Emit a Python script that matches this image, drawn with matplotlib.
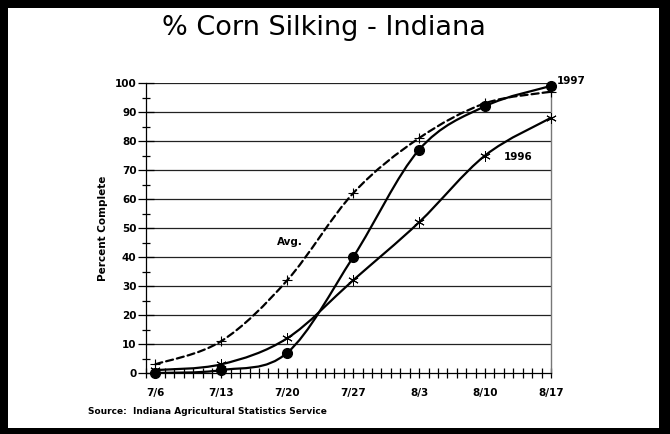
import numpy as np
import matplotlib
matplotlib.use("Agg")
import matplotlib.pyplot as plt
from matplotlib.path import Path
from matplotlib.patches import PathPatch, Rectangle
from matplotlib.ticker import MultipleLocator

plt.rcParams["font.family"] = ["DejaVu Sans"]

# days after 7/6 for each weekly report
DAYS = [0, 7, 14, 21, 28, 35, 42]
DATE_LABELS = ["7/6", "7/13", "7/20", "7/27", "8/3", "8/10", "8/17"]
PCT_1997 = [0, 1, 7, 40, 77, 92, 99]
PCT_1996 = [1, 3, 12, 32, 52, 75, 88]
PCT_AVG = [3, 11, 32, 62, 81, 93, 97]


def smooth_path(xs, ys):
    """Catmull-Rom curve through the points, as cubic Bezier segments."""
    pts = np.column_stack([xs, ys]).astype(float)
    verts = [pts[0]]
    codes = [Path.MOVETO]
    n = len(pts)
    for i in range(n - 1):
        p0 = pts[i - 1] if i > 0 else pts[i]
        p1, p2 = pts[i], pts[i + 1]
        p3 = pts[i + 2] if i + 2 < n else pts[i + 1]
        c1 = p1 + (p2 - p0) / 6.0
        c2 = p2 - (p3 - p1) / 6.0
        verts += [c1, c2, p2]
        codes += [Path.CURVE4] * 3
    return Path(verts, codes)


fig = plt.figure(figsize=(6.7, 4.34), dpi=100)
ax = fig.add_axes([146 / 670, 1 - 373 / 434, 405 / 670, 290 / 434])

for y in range(10, 101, 10):
    ax.axhline(y, color="#222222", lw=0.9, zorder=1)

line_kw = dict(fill=False, lw=1.6, edgecolor="black", zorder=3, capstyle="round")
ax.add_patch(PathPatch(smooth_path(DAYS, PCT_AVG), ls=(0, (3.2, 1.8)), **line_kw))
ax.add_patch(PathPatch(smooth_path(DAYS, PCT_1996), **line_kw))
ax.add_patch(PathPatch(smooth_path(DAYS, PCT_1997), **line_kw))

ax.plot(DAYS, PCT_AVG, ls="none", marker="+", ms=7.5, mew=0.8, color="black",
        zorder=4, clip_on=False)
ax.plot(DAYS, PCT_1996, ls="none", marker=(6, 2, 0), ms=7.5, mew=0.7, color="black",
        zorder=4, clip_on=False)
ax.plot(DAYS, PCT_1997, ls="none", marker="o", ms=7, color="black",
        zorder=5, clip_on=False)

ax.set_xlim(-1, 42)
ax.set_ylim(0, 100)

ax.set_xticks(DAYS)
ax.set_xticklabels(DATE_LABELS)
ax.xaxis.set_minor_locator(MultipleLocator(1))
ax.yaxis.set_major_locator(MultipleLocator(10))
ax.yaxis.set_minor_locator(MultipleLocator(5))

ax.tick_params(axis="y", which="major", direction="inout", length=11.5, width=0.9,
               labelsize=7.5, pad=1)
ax.tick_params(axis="y", which="minor", direction="inout", length=5.8, width=0.9)
ax.tick_params(axis="x", which="both", direction="inout", length=7, width=0.9,
               labelsize=7.5, pad=7)
for lab in ax.get_xticklabels() + ax.get_yticklabels():
    lab.set_fontweight("bold")

ax.spines["top"].set_visible(False)
ax.spines["left"].set_linewidth(0.9)
ax.spines["bottom"].set_linewidth(0.9)
ax.spines["right"].set_color("#777777")
ax.spines["right"].set_linewidth(1.0)

ax.set_ylabel("Percent Complete", fontsize=7.5, fontweight="bold", labelpad=5)

ax.text(42.6, 100.7, "1997", fontsize=7.5, fontweight="bold", va="center", ha="left")
ax.text(37.0, 74.5, "1996", fontsize=7.5, fontweight="bold", va="center", ha="left")
ax.text(12.9, 45.2, "Avg.", fontsize=7.5, fontweight="bold", va="center", ha="left")

fig.text(324 / 670, 1 - 28 / 434, "% Corn Silking - Indiana", fontsize=19.5,
         ha="center", va="center")
fig.text(88 / 670, 1 - 412 / 434, "Source:  Indiana Agricultural Statistics Service",
         fontsize=6.5, fontweight="bold", ha="left", va="center")

# heavy frame round the whole picture
W, H = 670, 434
for x0, y0, w, h in [(0, 0, 8, H), (659, 0, 11, H), (0, H - 8, W, 8), (0, 0, W, 6)]:
    fig.patches.append(Rectangle((x0 / W, y0 / H), w / W, h / H, transform=fig.transFigure,
                                 facecolor="black", edgecolor="none"))

fig.savefig("out.png", dpi=100)
